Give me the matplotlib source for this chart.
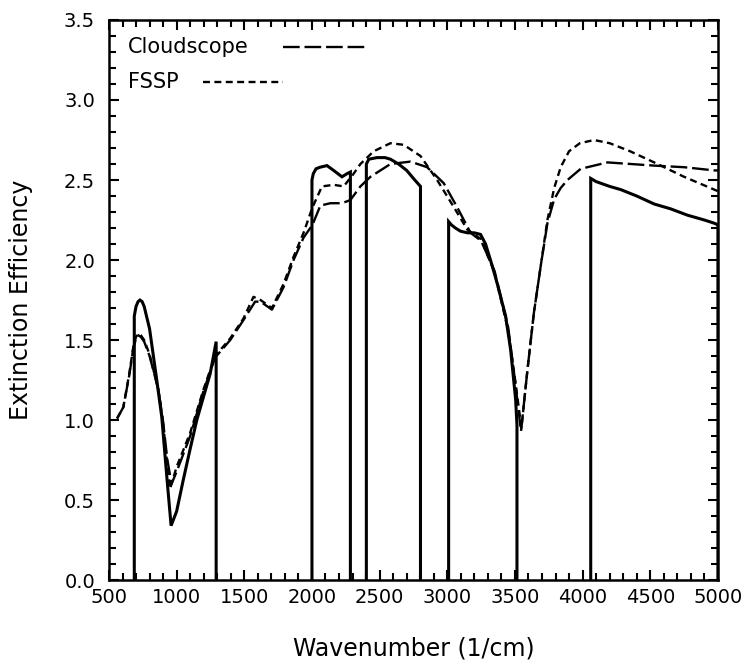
import matplotlib
matplotlib.use('Agg')
import matplotlib.pyplot as plt
from matplotlib.ticker import MultipleLocator

plt.rcParams['font.family'] = ['DejaVu Sans']
plt.rcParams['lines.scale_dashes'] = False

# measured spectrum, in separate wavenumber windows
seg1_x = [687, 700, 715, 729, 745, 760, 800, 853, 890, 930, 959, 1000, 1050, 1100, 1149, 1200, 1248, 1292]
seg1_y = [1.65, 1.71, 1.74, 1.75, 1.74, 1.71, 1.57, 1.25, 1.02, 0.62, 0.34, 0.43, 0.63, 0.82, 1.00, 1.15, 1.29, 1.49]
seg2_x = [2000, 2010, 2030, 2060, 2111, 2160, 2222, 2260, 2284]
seg2_y = [2.50, 2.54, 2.57, 2.58, 2.59, 2.56, 2.52, 2.54, 2.55]
seg3_x = [2402, 2420, 2480, 2540, 2580, 2640, 2700, 2760, 2802]
seg3_y = [2.60, 2.63, 2.64, 2.64, 2.63, 2.60, 2.56, 2.50, 2.46]
seg4_x = [3010, 3030, 3060, 3098, 3150, 3200, 3246, 3283, 3330, 3370, 3431, 3468, 3505, 3515]
seg4_y = [2.24, 2.22, 2.20, 2.18, 2.17, 2.17, 2.16, 2.10, 1.97, 1.85, 1.65, 1.44, 1.13, 0.97]
seg5_x = [4060, 4100, 4200, 4282, 4400, 4529, 4650, 4776, 4900, 4973, 5000]
seg5_y = [2.51, 2.49, 2.46, 2.44, 2.40, 2.35, 2.32, 2.28, 2.25, 2.23, 2.22]
segments = [(seg1_x, seg1_y), (seg2_x, seg2_y), (seg3_x, seg3_y), (seg4_x, seg4_y), (seg5_x, seg5_y)]

# Cloudscope (long dash)
cs_x = [560, 606, 650, 680, 700, 717, 735, 760, 800, 865, 900, 930, 962, 1001, 1100, 1198, 1284, 1396, 1494,
        1580, 1620, 1704, 1790, 1864, 1938, 2004, 2062, 2136, 2222, 2284, 2358, 2432, 2506, 2580,
        2728, 2851, 2974, 3073, 3172, 3250, 3350, 3450, 3500, 3545, 3592, 3640, 3690, 3740, 3790,
        3838, 3888, 3986, 4184, 4529, 4750, 4973, 5000]
cs_y = [1.01, 1.08, 1.28, 1.45, 1.51, 1.53, 1.52, 1.49, 1.40, 1.19, 0.99, 0.76, 0.60, 0.68, 0.90, 1.18, 1.39,
        1.50, 1.625, 1.74, 1.74, 1.69, 1.83, 2.00, 2.14, 2.22, 2.34, 2.355, 2.355, 2.375, 2.46, 2.52,
        2.56, 2.60, 2.615, 2.58, 2.48, 2.33, 2.17, 2.12, 1.93, 1.58, 1.25, 0.93, 1.31, 1.67, 1.96,
        2.23, 2.38, 2.45, 2.50, 2.57, 2.61, 2.59, 2.58, 2.56, 2.56]

# FSSP (short dash)
fs_x = [560, 606, 650, 680, 700, 717, 735, 760, 800, 865, 900, 930, 951, 1001, 1100, 1198, 1284, 1396, 1494,
        1568, 1620, 1704, 1790, 1864, 1938, 2004, 2074, 2160, 2234, 2300, 2358, 2457, 2580, 2678,
        2802, 2925, 3049, 3148, 3250, 3350, 3450, 3500, 3548, 3592, 3640, 3690, 3740, 3790, 3838,
        3900, 3980, 4085, 4200, 4350, 4529, 4750, 4973, 5000]
fs_y = [1.01, 1.08, 1.29, 1.46, 1.52, 1.54, 1.53, 1.50, 1.41, 1.19, 0.98, 0.73, 0.57, 0.71, 0.92, 1.19, 1.40,
        1.51, 1.635, 1.77, 1.75, 1.70, 1.85, 2.02, 2.17, 2.33, 2.46, 2.47, 2.46, 2.53, 2.60, 2.68,
        2.73, 2.72, 2.65, 2.50, 2.33, 2.19, 2.13, 1.92, 1.56, 1.26, 0.95, 1.31, 1.67, 1.96, 2.25,
        2.45, 2.58, 2.68, 2.73, 2.75, 2.73, 2.68, 2.61, 2.52, 2.44, 2.43]

xticks = [500, 1000, 1500, 2000, 2500, 3000, 3500, 4000, 4500, 5000]
yticks = [0.0, 0.5, 1.0, 1.5, 2.0, 2.5, 3.0, 3.5]

fig = plt.figure(figsize=(7.49, 6.66), dpi=100)
ax = fig.add_axes([0.1455, 0.129, 0.813, 0.841])

long_dash = (0, (12, 3.5))
short_dash = (0, (5, 3.2))

for sx, sy in segments:
    ax.plot([sx[0]] + sx + [sx[-1]], [0] + sy + [0], color='black', lw=2.2,
            solid_joinstyle='miter')
ax.plot(cs_x, cs_y, color='black', lw=1.7, linestyle=long_dash)
ax.plot(fs_x, fs_y, color='black', lw=1.7, linestyle=short_dash)

ax.set_xlim(500, 5000)
ax.set_ylim(0, 3.5)
ax.set_xticks(xticks)
ax.set_yticks(yticks)
ax.set_xticklabels([str(t) for t in xticks])
ax.set_yticklabels(['%.1f' % t for t in yticks])
ax.xaxis.set_minor_locator(MultipleLocator(100))
ax.yaxis.set_minor_locator(MultipleLocator(0.1))
ax.tick_params(which='both', direction='in', top=True, right=True, width=1.5, labelsize=14)
ax.tick_params(which='major', length=7)
ax.tick_params(which='minor', length=5)
ax.tick_params(axis='x', pad=6)
ax.tick_params(axis='y', pad=10)
for sp in ax.spines.values():
    sp.set_linewidth(1.8)

ax.set_xlabel('Wavenumber (1/cm)', fontsize=17, labelpad=21)
ax.set_ylabel('Extinction Efficiency', fontsize=17, labelpad=22)

# legend drawn by hand: text first, then the line sample
ax.text(0.031, 0.952, 'Cloudscope', transform=ax.transAxes, fontsize=15, va='center')
ax.plot([0.286, 0.424], [0.952, 0.952], transform=ax.transAxes, color='black', lw=1.7,
        linestyle=long_dash)
ax.text(0.031, 0.889, 'FSSP', transform=ax.transAxes, fontsize=15, va='center')
ax.plot([0.154, 0.286], [0.889, 0.889], transform=ax.transAxes, color='black', lw=1.7,
        linestyle=short_dash)

fig.savefig('out.png', dpi=100)
